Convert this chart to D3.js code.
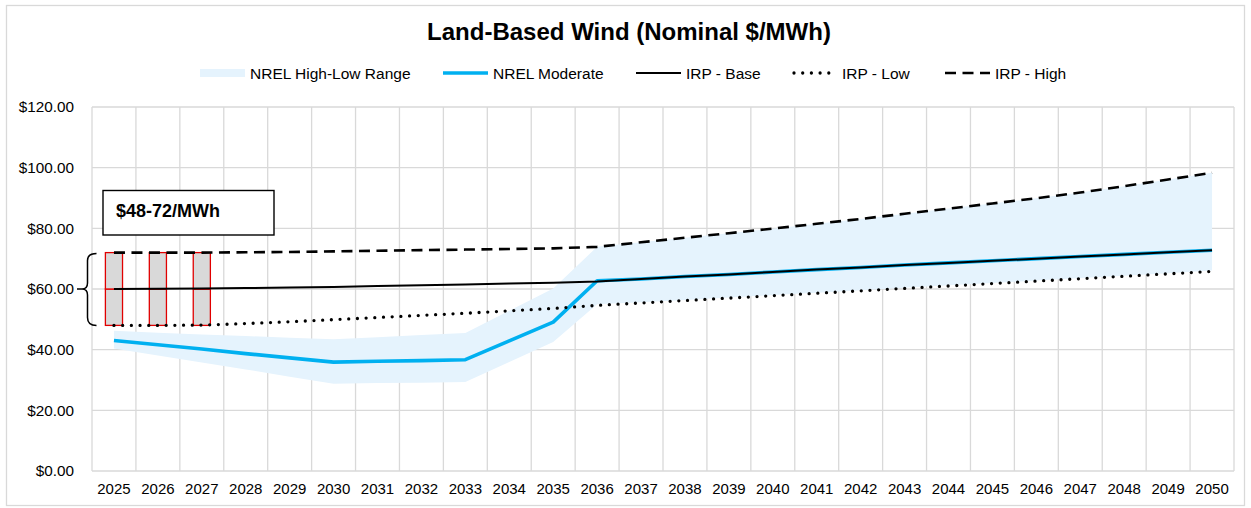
<!DOCTYPE html>
<html>
<head>
<meta charset="utf-8">
<script src="https://cdn.jsdelivr.net/npm/d3@7/dist/d3.min.js"></script>
<style>
  html, body { margin: 0; padding: 0; background: #fff; }
  svg { display: block; }
  text { font-family: "Liberation Sans", Arial, sans-serif; fill: #000; }
</style>
</head>
<body>
<svg id="chart" width="1251" height="508"></svg>
<script>
// Categories (years)
const years = [2025, 2026, 2027, 2028, 2029, 2030, 2031, 2032, 2033, 2034, 2035, 2036, 2037,
               2038, 2039, 2040, 2041, 2042, 2043, 2044, 2045, 2046, 2047, 2048, 2049, 2050];

// NREL ATB land-based wind, nominal $/MWh
const nrelModerate = [43.0, 41.6, 40.2, 38.7, 37.3, 35.9, 36.2, 36.4, 36.7, 42.9, 49.1, 62.7, 63.3,
                      64.1, 64.8, 65.6, 66.4, 67.1, 67.9, 68.6, 69.3, 70.0, 70.7, 71.4, 72.1, 72.8];
const nrelHigh = [46.2, 45.6, 45.0, 44.5, 43.9, 43.4, 44.1, 44.8, 45.5, 52.8, 60.2, 73.9, 75.4,
                  76.9, 78.4, 79.9, 81.5, 83.1, 84.8, 86.5, 88.2, 89.9, 91.8, 93.9, 96.1, 98.3];
const nrelLow = [40.4, 38.1, 35.8, 33.5, 31.1, 28.8, 29.0, 29.1, 29.3, 35.9, 42.5, 55.0, 55.6,
                 56.4, 57.2, 58.0, 58.8, 59.6, 60.4, 61.2, 62.0, 62.8, 63.6, 64.4, 65.2, 66.1];

// IRP scenarios
const irpBase = [60.0, 60.1, 60.2, 60.3, 60.5, 60.7, 61.0, 61.2, 61.5, 61.8, 62.1, 62.5, 63.3,
                 64.1, 64.8, 65.6, 66.4, 67.1, 67.9, 68.6, 69.3, 70.0, 70.7, 71.4, 72.1, 72.8];
const irpLow = [48.0, 48.0, 48.1, 48.6, 49.2, 49.9, 50.6, 51.3, 52.0, 52.8, 53.6, 54.6, 55.4,
                56.2, 57.0, 57.8, 58.6, 59.4, 60.2, 61.0, 61.8, 62.6, 63.4, 64.2, 65.0, 65.8];
const irpHigh = [72.0, 72.0, 72.0, 72.1, 72.2, 72.4, 72.6, 72.8, 73.0, 73.2, 73.4, 73.9, 75.4,
                 76.9, 78.4, 79.9, 81.5, 83.1, 84.8, 86.5, 88.2, 89.9, 91.8, 93.9, 96.1, 98.3];

// Near-term price range bars (low / base / high)
const rangeYears = [2025, 2026, 2027];
const rangeLow = [48, 48, 48];
const rangeMid = [60, 60, 60];
const rangeHigh = [72, 72, 72];
const rangeLabel = "$48-72/MWh";

// Axis ticks
const yTicks = [0, 20, 40, 60, 80, 100, 120];

const title = "Land-Based Wind (Nominal $/MWh)";
const legendLabels = ["NREL High-Low Range", "NREL Moderate", "IRP - Base", "IRP - Low", "IRP - High"];

// ---- layout ----
const plot = { left: 92, right: 1234, top: 107, bottom: 471 };
const colors = { grid: "#d9d9d9", band: "#e5f3fd", blue: "#00b0f0", bar: "#d9d9d9", barEdge: "#e00000" };

const svg = d3.select("#chart");

// chart-area border
svg.append("rect")
  .attr("x", 6.5).attr("y", 5.5).attr("width", 1238).attr("height", 500)
  .attr("fill", "#fff").attr("stroke", colors.grid).attr("stroke-width", 1.3);

const x = d3.scaleBand().domain(years).range([plot.left, plot.right]).padding(0);
const xc = d => x(d) + x.bandwidth() / 2;
const y = d3.scaleLinear().domain([0, 120]).range([plot.bottom, plot.top]);

// gridlines
const grid = svg.append("g").attr("stroke", colors.grid).attr("stroke-width", 1.3);
grid.selectAll("line.h").data(yTicks).join("line")
  .attr("x1", plot.left).attr("x2", plot.right)
  .attr("y1", d => y(d)).attr("y2", d => y(d));
const vEdges = years.map(d => x(d)).concat([plot.right]);
grid.selectAll("line.v").data(vEdges).join("line")
  .attr("x1", d => d).attr("x2", d => d)
  .attr("y1", plot.top).attr("y2", plot.bottom);

// y axis
const yAxis = d3.axisLeft(y).tickValues(yTicks).tickSize(0).tickPadding(0)
  .tickFormat(d => "$" + d3.format(".2f")(d));
svg.append("g").attr("transform", `translate(74,0)`).call(yAxis)
  .call(g => g.select(".domain").remove())
  .call(g => g.selectAll("text").attr("font-size", 15.3).attr("font-family", "'Liberation Sans', Arial, sans-serif").attr("fill", "#000"));

// x axis
const xAxis = d3.axisBottom(x).tickSize(0).tickPadding(0);
svg.append("g").attr("transform", `translate(0,${plot.bottom + 12})`).call(xAxis)
  .call(g => g.select(".domain").remove())
  .call(g => g.selectAll("text").attr("font-size", 15).attr("font-family", "'Liberation Sans', Arial, sans-serif").attr("fill", "#000"));

// NREL high-low band
const idx = years.map((d, i) => i);
const band = d3.area()
  .x(i => xc(years[i]))
  .y0(i => y(nrelLow[i]))
  .y1(i => y(nrelHigh[i]));
svg.append("path").datum(idx).attr("d", band).attr("fill", colors.band);

// near-term range bars: stacked low->mid and mid->high
const barW = x.bandwidth() * 0.39;
const bars = svg.append("g");
rangeYears.forEach((yr, i) => {
  [[rangeLow[i], rangeMid[i]], [rangeMid[i], rangeHigh[i]]].forEach(([a, b]) => {
    bars.append("rect")
      .attr("x", xc(yr) - barW / 2).attr("width", barW)
      .attr("y", y(b)).attr("height", y(a) - y(b))
      .attr("fill", colors.bar).attr("stroke", colors.barEdge).attr("stroke-width", 1.3);
  });
});

// lines
const lineOf = arr => d3.line().x(i => xc(years[i])).y(i => y(arr[i]))(idx);
svg.append("path").attr("d", lineOf(nrelModerate)).attr("fill", "none")
  .attr("stroke", colors.blue).attr("stroke-width", 3.6).attr("stroke-linejoin", "round");
svg.append("path").attr("d", lineOf(irpBase)).attr("fill", "none")
  .attr("stroke", "#000").attr("stroke-width", 2);
svg.append("path").attr("d", lineOf(irpLow)).attr("fill", "none")
  .attr("stroke", "#000").attr("stroke-width", 3.3).attr("stroke-linecap", "round")
  .attr("stroke-dasharray", "0 8.7");
svg.append("path").attr("d", lineOf(irpHigh)).attr("fill", "none")
  .attr("stroke", "#000").attr("stroke-width", 2.6).attr("stroke-dasharray", "11 6.5");

// curly brace spanning the range bars, pointing at the base value
const bTop = y(rangeHigh[0]), bMid = y(rangeMid[0]), bBot = y(rangeLow[0]);
const bx = 87.5, bxr = 96.5, bxl = 82, tipX = 77;
const brace = d3.path();
brace.moveTo(bxr, bTop + 1);
brace.quadraticCurveTo(bx, bTop + 1, bx, bTop + 8);
brace.lineTo(bx, bMid - 6);
brace.quadraticCurveTo(bx, bMid, bxl, bMid);
brace.lineTo(tipX, bMid);
brace.moveTo(bxl, bMid);
brace.quadraticCurveTo(bx, bMid, bx, bMid + 6);
brace.lineTo(bx, bBot - 8);
brace.quadraticCurveTo(bx, bBot, bxr, bBot);
svg.append("path").attr("d", brace.toString()).attr("fill", "none")
  .attr("stroke", "#000").attr("stroke-width", 1.5);

// range annotation box
svg.append("rect").attr("x", 103).attr("y", 190.5).attr("width", 171).attr("height", 44.5)
  .attr("fill", "#fff").attr("stroke", "#000").attr("stroke-width", 1.4);
svg.append("text").attr("x", 116).attr("y", 216.5)
  .attr("font-family", "Lato, 'Open Sans', sans-serif").attr("font-weight", "bold").attr("font-size", 18)
  .text(rangeLabel);

// title
svg.append("text").attr("x", 629).attr("y", 40).attr("text-anchor", "middle")
  .attr("font-weight", "bold").attr("font-size", 24).text(title);

// legend
const legX = [200, 443, 636, 792, 945];
const legY = 73;
const leg = svg.append("g");
legendLabels.forEach((lab, i) => {
  const x0 = legX[i];
  if (i === 0) {
    leg.append("rect").attr("x", x0).attr("y", legY - 4).attr("width", 45).attr("height", 8).attr("fill", colors.band);
  } else {
    const l = leg.append("line").attr("x1", x0).attr("x2", x0 + 45).attr("y1", legY).attr("y2", legY)
      .attr("stroke", i === 1 ? colors.blue : "#000");
    if (i === 1) l.attr("stroke-width", 3.6);
    if (i === 2) l.attr("stroke-width", 2);
    if (i === 3) l.attr("stroke-width", 3.3).attr("stroke-linecap", "round").attr("stroke-dasharray", "0 8.7").attr("x1", x0 + 2);
    if (i === 4) l.attr("stroke-width", 2.6).attr("stroke-dasharray", "11 6.5");
  }
  leg.append("text").attr("x", x0 + 50).attr("y", legY + 5.5).attr("font-size", 15.5).text(lab);
});
</script>
</body>
</html>
